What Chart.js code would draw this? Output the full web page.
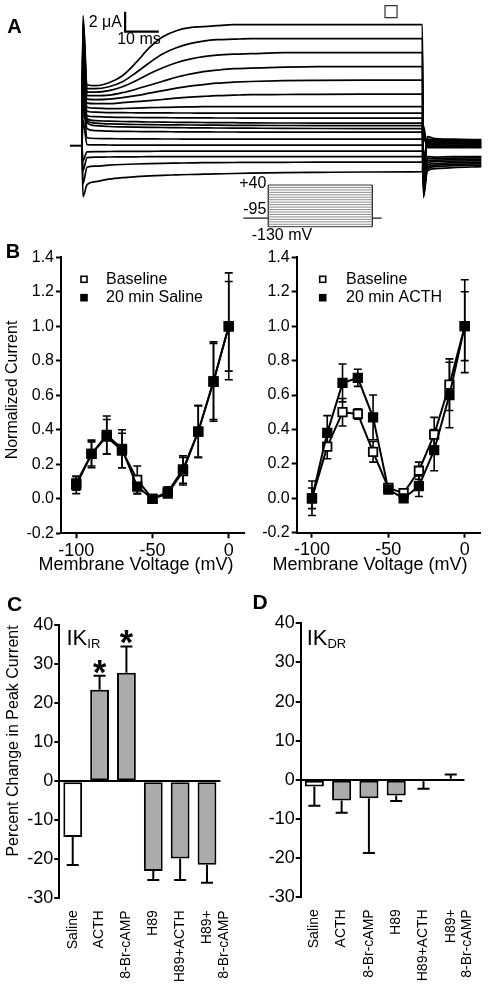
<!DOCTYPE html>
<html><head><meta charset="utf-8">
<script src="https://cdn.jsdelivr.net/npm/chart.js@4/dist/chart.umd.min.js"></script>
<style>
html,body{margin:0;padding:0;background:#fff;}
#wrap{position:relative;width:489px;height:989px;overflow:hidden;background:#fff;}
canvas{position:absolute;}
</style></head><body><div id="wrap">
<canvas id="cA" width="489" height="200" style="left:0;top:0"></canvas>
<canvas id="cP" width="160" height="80" style="left:235px;top:172px"></canvas>
<canvas id="cB1" width="245" height="345" style="left:0;top:240px"></canvas>
<canvas id="cB2" width="244" height="345" style="left:245px;top:240px"></canvas>
<canvas id="cC" width="245" height="399" style="left:0;top:590px"></canvas>
<canvas id="cD" width="244" height="399" style="left:245px;top:590px"></canvas>
</div>
<script>
// ---------------- DATA ----------------
// Panel A: current traces (uA) during a 100 ms step, then tail at -95 mV
const A_T = [0, 0.3, 1.5, 4, 8, 12, 16, 20, 24, 28, 32, 36, 40, 45, 50, 60, 70, 85, 101];
const TAIL_T = [101.3, 102.5, 105, 110, 118.5];
const A_PULSE = [
  [0, 13.0, 6.1, 6.0, 6.3, 7.0, 8.3, 9.8, 10.9, 11.5, 11.8, 11.9, 12.0, 12.1, 12.1, 12.1, 12.1, 12.1, 12.1],
  [0, 12.5, 5.7, 5.7, 5.9, 6.4, 7.3, 8.3, 9.2, 9.8, 10.2, 10.45, 10.6, 10.65, 10.7, 10.7, 10.7, 10.7, 10.7],
  [0, 12.0, 5.35, 5.35, 5.5, 5.9, 6.5, 7.2, 7.8, 8.3, 8.65, 8.9, 9.05, 9.15, 9.2, 9.3, 9.3, 9.3, 9.3],
  [0, 11.5, 5.0, 5.0, 5.05, 5.3, 5.65, 6.05, 6.45, 6.85, 7.15, 7.4, 7.55, 7.7, 7.75, 7.85, 7.9, 7.9, 7.9],
  [0, 11.0, 4.65, 4.6, 4.65, 4.8, 5.0, 5.25, 5.5, 5.75, 5.95, 6.1, 6.25, 6.35, 6.42, 6.5, 6.53, 6.55, 6.55],
  [0, 10.5, 4.25, 4.2, 4.2, 4.3, 4.4, 4.5, 4.62, 4.75, 4.85, 4.93, 5.0, 5.05, 5.1, 5.12, 5.14, 5.15, 5.15],
  [0, 10.0, 3.85, 3.75, 3.7, 3.72, 3.75, 3.8, 3.83, 3.86, 3.88, 3.9, 3.9, 3.9, 3.9, 3.9, 3.9, 3.9, 3.9],
  [0, 9.5, 3.45, 3.35, 3.3, 3.3, 3.29, 3.28, 3.28, 3.27, 3.27, 3.26, 3.26, 3.26, 3.25, 3.25, 3.25, 3.25, 3.25],
  [0, 9.0, 3.0, 2.9, 2.85, 2.83, 2.82, 2.8, 2.8, 2.79, 2.78, 2.78, 2.77, 2.77, 2.76, 2.76, 2.75, 2.75, 2.75],
  [0, 8.5, 2.7, 2.5, 2.45, 2.42, 2.4, 2.37, 2.35, 2.34, 2.33, 2.32, 2.31, 2.3, 2.28, 2.27, 2.26, 2.25, 2.25],
  [0, 8.0, 2.5, 2.25, 2.18, 2.15, 2.12, 2.1, 2.09, 2.08, 2.07, 2.06, 2.05, 2.04, 2.03, 2.02, 2.01, 2.0, 2.0],
  [0, 7.5, 2.3, 2.0, 1.92, 1.88, 1.85, 1.83, 1.82, 1.8, 1.79, 1.78, 1.77, 1.76, 1.75, 1.73, 1.72, 1.71, 1.7],
  [0, 6.5, 1.7, 1.5, 1.45, 1.43, 1.42, 1.4, 1.4, 1.39, 1.38, 1.38, 1.37, 1.37, 1.36, 1.36, 1.35, 1.35, 1.35],
  [0, 4.5, 0.8, 0.72, 0.7, 0.69, 0.68, 0.68, 0.67, 0.67, 0.66, 0.66, 0.66, 0.66, 0.65, 0.65, 0.65, 0.65, 0.65],
  [0, 2.5, 0.1, 0.08, 0.07, 0.06, 0.06, 0.06, 0.05, 0.05, 0.05, 0.05, 0.05, 0.05, 0.05, 0.05, 0.05, 0.05, 0.05],
  [0, -1.5, -0.62, -0.6, -0.58, -0.57, -0.56, -0.56, -0.55, -0.55, -0.55, -0.55, -0.55, -0.55, -0.55, -0.55, -0.55, -0.55, -0.55],
  [0, -2.5, -1.2, -1.15, -1.13, -1.12, -1.11, -1.1, -1.1, -1.1, -1.1, -1.1, -1.1, -1.1, -1.1, -1.1, -1.1, -1.1, -1.1],
  [0, -3.8, -2.15, -2.05, -1.95, -1.88, -1.83, -1.79, -1.76, -1.74, -1.72, -1.7, -1.69, -1.68, -1.67, -1.66, -1.65, -1.65, -1.65],
  [0, -5.1, -3.9, -3.6, -3.35, -3.2, -3.1, -3.02, -2.96, -2.92, -2.88, -2.85, -2.82, -2.78, -2.75, -2.7, -2.67, -2.63, -2.6]
];
const A_TAIL = [
  [-5.2, -2.5, -2.3, -2.2, -2.1],
  [-5.0, -2.3, -2.1, -2.0, -1.95],
  [-4.8, -2.1, -1.95, -1.85, -1.8],
  [-4.6, -1.9, -1.8, -1.7, -1.65],
  [-4.4, -1.7, -1.6, -1.55, -1.5],
  [-4.2, -1.5, -1.45, -1.4, -1.35],
  [-4.0, -1.3, -1.3, -1.25, -1.2],
  [-3.8, -1.1, -1.15, -1.1, -1.1],
  [-3.5, 0.9, 0.7, 0.65, 0.6],
  [-3.2, 0.65, 0.6, 0.55, 0.5],
  [-3.0, 0.55, 0.5, 0.45, 0.42],
  [-2.8, 0.45, 0.4, 0.35, 0.32],
  [-2.4, 0.35, 0.3, 0.28, 0.25],
  [-1.8, 0.25, 0.2, 0.18, 0.15],
  [-1.0, 0.1, 0.08, 0.06, 0.05],
  [0.8, 0.0, -0.02, -0.04, -0.05],
  [1.2, -0.05, -0.08, -0.1, -0.1],
  [1.6, -0.1, -0.12, -0.15, -0.15],
  [2.0, -0.2, -0.2, -0.2, -0.2]
];
const SCALE_BAR = { t: 12.8, i: 11.4, dt: 10, di: 2 };   // 10 ms, 2 uA
const A_MARK = { t: 91.7, i: 13.4 };
// Voltage protocol (mV)
const PROTO_V = [40, 30, 20, 10, 0, -10, -20, -30, -40, -50, -60, -70, -80, -90, -100, -110, -120, -130];
const HOLD_V = -95;
const PROTO_T = [-24, 0, 100, 109];

// Panel B: normalized I-V
const VOLT = [-100, -90, -80, -70, -60, -50, -40, -30, -20, -10, 0];
const B_TICKS_X = [-100, -50, 0];
const BASE_S = [0.09, 0.26, 0.36, 0.28, 0.11, 0.00, 0.03, 0.16, 0.39, 0.68, 1.00];
const BASE_S_ERR = [0.04, 0.08, 0.10, 0.10, 0.08, 0.00, 0.02, 0.08, 0.15, 0.23, 0.26];
const SAL = [0.08, 0.26, 0.37, 0.29, 0.07, 0.00, 0.04, 0.17, 0.39, 0.68, 1.00];
const SAL_ERR = [0.05, 0.07, 0.11, 0.11, 0.04, 0.00, 0.03, 0.08, 0.15, 0.22, 0.31];
const BASE_A = [0.00, 0.30, 0.50, 0.49, 0.27, 0.06, 0.03, 0.16, 0.37, 0.66, 1.00];
const BASE_A_ERR = [0.06, 0.07, 0.08, 0.03, 0.06, 0.01, 0.01, 0.05, 0.10, 0.15, 0.20];
const ACTH = [0.00, 0.38, 0.67, 0.70, 0.47, 0.05, 0.00, 0.07, 0.28, 0.60, 1.00];
const ACTH_ERR = [0.10, 0.10, 0.11, 0.05, 0.13, 0.01, 0.01, 0.06, 0.12, 0.19, 0.27];

// Panels C, D: percent change in peak current
const CATS = ['Saline', 'ACTH', '8-Br-cAMP', 'H89', 'H89+ACTH', ['H89+', '8-Br-cAMP']];
const IKIR = [-14.3, 23.4, 27.8, -23.0, -19.8, -21.4];
const IKIR_ERR = [7.2, 3.6, 6.7, 2.3, 5.5, 4.6];
const IKIR_SIG = [false, true, true, false, false, false];
const IKDR = [-1.7, -5.3, -4.7, -4.0, -0.15, 0.3];
const IKDR_ERR = [4.9, 3.1, 14.0, 1.4, 2.1, 1.1];
const IKDR_SIG = [false, false, false, false, false, false];

// ---------------- HELPERS ----------------
const FF = "'Liberation Sans', Arial, Helvetica, sans-serif";
Chart.defaults.font.family = FF;
Chart.defaults.font.size = 16;
Chart.defaults.color = '#000';
Chart.defaults.animation = false;

function drawItem(ctx, it) {
  ctx.save();
  ctx.fillStyle = '#000';
  ctx.translate(it.x, it.y);
  if (it.rotate) ctx.rotate(it.rotate);
  ctx.textBaseline = it.baseline || 'middle';
  if (it.parts) {
    let x = 0;
    it.parts.forEach(p => {
      ctx.font = p.font; ctx.textAlign = 'left';
      ctx.fillText(p.text, x, p.dy || 0);
      x += ctx.measureText(p.text).width;
    });
  } else {
    ctx.font = it.font || ('16px ' + FF);
    ctx.textAlign = it.align || 'left';
    ctx.fillText(it.text, 0, 0);
  }
  ctx.restore();
}
function textPlugin(items) {
  return {
    id: 'texts',
    afterDraw(chart) {
      items.forEach(it => drawItem(chart.ctx, typeof it === 'function' ? it(chart) : it));
    }
  };
}
const errorBarPlugin = {
  id: 'errorBars',
  beforeDatasetsDraw(chart) {
    const ctx = chart.ctx, ys = chart.scales.y;
    chart.data.datasets.forEach((ds, di) => {
      if (!ds.errors) return;
      const meta = chart.getDatasetMeta(di);
      ctx.save();
      ctx.strokeStyle = '#000';
      ctx.lineWidth = ds.errWidth || 1.6;
      const cw = ds.capWidth || 8;
      meta.data.forEach((el, i) => {
        const v = ds.values[i], e = ds.errors[i];
        if (!e) return;
        const ends = ds.errDir === 'away' ? [v >= 0 ? v + e : v - e] : [v + e, v - e];
        ends.forEach(end => {
          const y0 = ys.getPixelForValue(v), y1 = ys.getPixelForValue(end);
          ctx.beginPath();
          ctx.moveTo(el.x, y0); ctx.lineTo(el.x, y1);
          ctx.moveTo(el.x - cw / 2, y1); ctx.lineTo(el.x + cw / 2, y1);
          ctx.stroke();
        });
      });
      ctx.restore();
    });
  },
  afterDatasetsDraw(chart) {
    const ctx = chart.ctx, ys = chart.scales.y;
    chart.data.datasets.forEach((ds, di) => {
      if (!ds.sig) return;
      const meta = chart.getDatasetMeta(di);
      meta.data.forEach((el, i) => {
        if (!ds.sig[i]) return;
        const v = ds.values[i], e = ds.errors[i];
        const top = ys.getPixelForValue(v >= 0 ? v + e : v) - 2;
        ctx.save();
        ctx.font = 'bold 100px ' + FF;
        let m = ctx.measureText('*');
        const h100 = m.actualBoundingBoxAscent + m.actualBoundingBoxDescent;
        const size = 100 * 13 / h100;
        ctx.font = 'bold ' + size + 'px ' + FF;
        m = ctx.measureText('*');
        ctx.textAlign = 'center';
        ctx.textBaseline = 'alphabetic';
        ctx.fillStyle = '#000';
        ctx.fillText('*', el.x, top - m.actualBoundingBoxDescent);
        ctx.restore();
      });
    });
  }
};
function legendPlugin(mx, tx, y0, dy) {
  return {
    id: 'ownLegend',
    afterDraw(chart) {
      const ctx = chart.ctx;
      chart.data.datasets.forEach((ds, i) => {
        const y = y0 + i * dy, s = 6;
        ctx.save();
        ctx.lineWidth = 1.6;
        ctx.strokeStyle = '#000';
        ctx.fillStyle = ds.pointBackgroundColor;
        ctx.fillRect(mx - s / 2, y - s / 2, s, s);
        ctx.strokeRect(mx - s / 2, y - s / 2, s, s);
        ctx.fillStyle = '#000';
        ctx.font = '16px ' + FF;
        ctx.textAlign = 'left'; ctx.textBaseline = 'middle';
        ctx.fillText(ds.label, tx, y);
        ctx.restore();
      });
    }
  };
}
const hidden = { display: false };

// ---------------- PANEL A ----------------
(function () {
  const ds = [];
  A_PULSE.forEach((vals, k) => {
    const pts = A_T.map((t, i) => ({ x: t, y: vals[i] }))
      .concat(TAIL_T.map((t, i) => ({ x: t, y: A_TAIL[k][i] })));
    ds.push({ data: pts, borderColor: '#000', borderWidth: 1.7, pointRadius: 0, cubicInterpolationMode: 'monotone', fill: false });
  });
  ds.push({ data: [{ x: -3.6, y: 0 }, { x: 0, y: 0 }], borderColor: '#000', borderWidth: 2, pointRadius: 0 });
  ds.push({ data: [{ x: SCALE_BAR.t, y: SCALE_BAR.i + SCALE_BAR.di }, { x: SCALE_BAR.t, y: SCALE_BAR.i }, { x: SCALE_BAR.t + SCALE_BAR.dt, y: SCALE_BAR.i }], borderColor: '#000', borderWidth: 2.2, pointRadius: 0 });
  ds.push({ data: [{ x: A_MARK.t, y: A_MARK.i }], showLine: false, pointStyle: 'rect', pointRadius: 8.5, pointBackgroundColor: '#fff', pointBorderColor: '#333', pointBorderWidth: 1.2 });
  new Chart(document.getElementById('cA'), {
    type: 'line',
    data: { datasets: ds },
    options: {
      responsive: false, animation: false,
      layout: { padding: 0, autoPadding: false },
      plugins: { legend: hidden, tooltip: { enabled: false } },
      scales: {
        x: { type: 'linear', min: -24.33, max: 120.77, display: false },
        y: { min: -5.43, max: 14.57, display: false }
      }
    },
    plugins: [textPlugin([
      { text: 'A', x: 14.5, y: 27, align: 'center', font: 'bold 20px ' + FF },
      { text: '2 \u03bcA', x: 122, y: 22.5, align: 'right' },
      { text: '10 ms', x: 139, y: 39.5, align: 'center' }
    ])]
  });
})();

// ---------------- PROTOCOL ----------------
(function () {
  const ds = [];
  PROTO_V.forEach((v, i) => {
    const edge = (i === 0 || i === PROTO_V.length - 1);
    ds.push({ data: [{ x: PROTO_T[1], y: v }, { x: PROTO_T[2], y: v }], borderColor: edge ? '#333' : '#8c8c8c', borderWidth: 1, pointRadius: 0 });
  });
  const lo = PROTO_V[PROTO_V.length - 1], hi = PROTO_V[0];
  ds.push({ data: [{ x: PROTO_T[0], y: HOLD_V }, { x: PROTO_T[1], y: HOLD_V }], borderColor: '#222', borderWidth: 1.3, pointRadius: 0 });
  ds.push({ data: [{ x: PROTO_T[2], y: HOLD_V }, { x: PROTO_T[3], y: HOLD_V }], borderColor: '#222', borderWidth: 1.3, pointRadius: 0 });
  ds.push({ data: [{ x: PROTO_T[1], y: lo }, { x: PROTO_T[1], y: hi }], borderColor: '#222', borderWidth: 1.3, pointRadius: 0 });
  ds.push({ data: [{ x: PROTO_T[2], y: lo }, { x: PROTO_T[2], y: hi }], borderColor: '#222', borderWidth: 1.3, pointRadius: 0 });
  new Chart(document.getElementById('cP'), {
    type: 'line',
    data: { datasets: ds },
    options: {
      responsive: false, animation: false, layout: { padding: 0, autoPadding: false },
      plugins: { legend: hidden, tooltip: { enabled: false } },
      scales: {
        x: { type: 'linear', min: -32, max: 121.8, display: false },
        y: { min: -233.1, max: 93.0, display: false }
      }
    },
    plugins: [textPlugin([
      c => ({ text: '+40', x: c.scales.x.getPixelForValue(0) - 2, y: c.scales.y.getPixelForValue(hi) - 1, align: 'right' }),
      c => ({ text: '-95', x: c.scales.x.getPixelForValue(0) - 2, y: c.scales.y.getPixelForValue(HOLD_V) - 9, align: 'right' }),
      c => ({ text: '-130 mV', x: c.scales.x.getPixelForValue(0) - 16.6, y: c.scales.y.getPixelForValue(lo) + 8.5, align: 'left' })
    ])]
  });
})();

// ---------------- PANEL B ----------------
function ivChart(id, base, baseErr, treat, treatErr, treatLabel, g, texts) {
  const mk = (label, vals, errs, fillCol, order) => ({
    label, data: VOLT.map((v, i) => ({ x: v, y: vals[i] })), values: vals, errors: errs, errDir: 'both', capWidth: 8,
    borderColor: '#000', borderWidth: 2, pointStyle: 'rect', pointRadius: 6,
    pointBackgroundColor: fillCol, pointBorderColor: '#000', pointBorderWidth: 1.8, order
  });
  new Chart(document.getElementById(id), {
    type: 'line',
    data: { datasets: [mk('Baseline', base, baseErr, '#fff', 1), mk(treatLabel, treat, treatErr, '#000', 0)] },
    options: {
      responsive: false, animation: false,
      layout: { padding: { top: g.pt, right: g.pr, left: 0, bottom: 0 }, autoPadding: false },
      plugins: { legend: hidden, tooltip: { enabled: false } },
      scales: {
        x: {
          type: 'linear', min: -110, max: 10,
          afterBuildTicks: s => { s.ticks = B_TICKS_X.map(v => ({ value: v })); },
          ticks: { padding: 2, font: { size: 18 } },
          grid: { drawOnChartArea: false, drawTicks: true, tickLength: 5, tickWidth: 2, tickColor: '#000' },
          border: { display: true, color: '#000', width: 2 },
          afterFit: s => { s.height = g.xh; }
        },
        y: {
          min: -0.2, max: 1.4,
          ticks: { stepSize: 0.2, padding: 2, callback: v => (Math.abs(v) < 1e-9 ? 0 : v).toFixed(1) },
          grid: { drawOnChartArea: false, drawTicks: true, tickLength: 5, tickWidth: 2, tickColor: '#000' },
          border: { display: true, color: '#000', width: 2 },
          afterFit: s => { s.width = g.yw; }
        }
      }
    },
    plugins: [errorBarPlugin, legendPlugin(g.mx, g.tx, 39.3, 18.4), textPlugin(texts)]
  });
}
ivChart('cB1', BASE_S, BASE_S_ERR, SAL, SAL_ERR, '20 min Saline',
  { pt: 17.3, pr: 1, yw: 61, xh: 51.7, mx: 84, tx: 106 },
  [
    { text: 'B', x: 13, y: 12, align: 'center', font: 'bold 20px ' + FF },
    { text: 'Normalized Current', x: 12.5, y: 150, align: 'center', rotate: -Math.PI / 2 },
    { text: 'Membrane Voltage (mV)', x: 136, y: 325, align: 'center', font: '18px ' + FF }
  ]);
ivChart('cB2', BASE_A, BASE_A_ERR, ACTH, ACTH_ERR, '20 min ACTH',
  { pt: 17.3, pr: 9, yw: 51.7, xh: 52.3, mx: 77.7, tx: 101 },
  [
    { text: 'Membrane Voltage (mV)', x: 125, y: 325, align: 'center', font: '18px ' + FF }
  ]);

// ---------------- PANELS C, D ----------------
function barChart(id, vals, errs, sig, g, texts) {
  new Chart(document.getElementById(id), {
    type: 'bar',
    data: {
      labels: CATS, datasets: [{
        data: vals, values: vals, errors: errs, sig, errDir: 'away', capWidth: 12, errWidth: 2,
        backgroundColor: CATS.map((c, i) => i === 0 ? '#ffffff' : '#ababab'),
        borderColor: '#000', borderWidth: 2, borderSkipped: false,
        barPercentage: 0.7, categoryPercentage: 1
      }]
    },
    options: {
      responsive: false, animation: false,
      layout: { padding: { top: g.pt, right: g.pr, left: 0, bottom: 0 }, autoPadding: false },
      plugins: { legend: hidden, tooltip: { enabled: false } },
      scales: {
        x: {
          grid: { display: false }, border: { display: false },
          ticks: { maxRotation: 90, minRotation: 90, autoSkip: false, padding: 4, font: { size: 14 } },
          afterFit: s => { s.height = g.xh; }
        },
        y: {
          min: -30, max: 40,
          ticks: { stepSize: 10, padding: 1, font: { size: 18 } },
          grid: {
            drawTicks: true, tickLength: 5, tickWidth: 2, tickColor: '#000', lineWidth: 2,
            color: c => (c.tick && c.tick.value === 0) ? '#000' : 'rgba(0,0,0,0)'
          },
          border: { display: true, color: '#000', width: 2 },
          afterFit: s => { s.width = g.yw; }
        }
      }
    },
    plugins: [errorBarPlugin, textPlugin(texts)]
  });
}
barChart('cC', IKIR, IKIR_ERR, IKIR_SIG, { pt: 35, pr: 5, yw: 59.3, xh: 90.7 }, [
  { text: 'C', x: 14.5, y: 15.5, align: 'center', font: 'bold 21px ' + FF },
  { text: 'Percent Change in Peak Current', x: 14, y: 151, align: 'center', rotate: -Math.PI / 2 },
  { x: 66.5, y: 55, baseline: 'alphabetic', parts: [{ text: 'IK', font: '22px ' + FF }, { text: 'IR', font: '13px ' + FF, dy: 3 }] }
]);
barChart('cD', IKDR, IKDR_ERR, IKDR_SIG, { pt: 33.3, pr: 7.3, yw: 55.7, xh: 91.7 }, [
  { text: 'D', x: 15, y: 13, align: 'center', font: 'bold 21px ' + FF },
  { x: 61.7, y: 55, baseline: 'alphabetic', parts: [{ text: 'IK', font: '22px ' + FF }, { text: 'DR', font: '13px ' + FF, dy: 3 }] }
]);
</script>
</body></html>
